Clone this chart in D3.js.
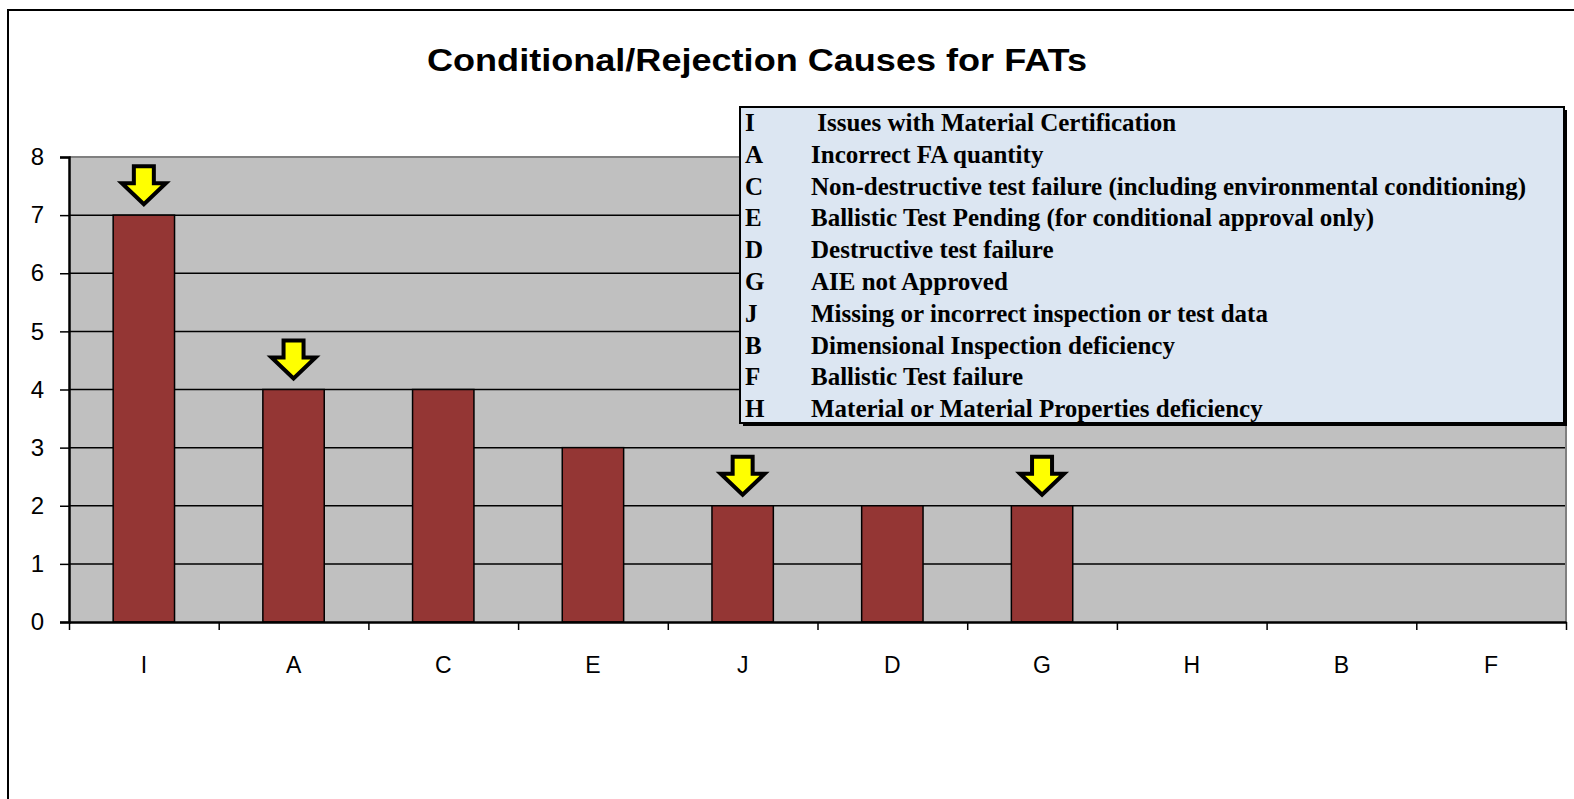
<!DOCTYPE html>
<html>
<head>
<meta charset="utf-8">
<script src="https://cdn.jsdelivr.net/npm/d3@7"></script>
<style>
  body { margin: 0; background: #fff; }
  svg { display: block; }
</style>
</head>
<body>
<svg id="chart"></svg>
<script>
// chart data
var categories = ['I', 'A', 'C', 'E', 'J', 'D', 'G', 'H', 'B', 'F'];
var counts = [7, 4, 4, 3, 2, 2, 2, 0, 0, 0];
var flagged = ['I', 'A', 'J', 'G'];
var yTicks = [0, 1, 2, 3, 4, 5, 6, 7, 8];
var legendCodes = ['I', 'A', 'C', 'E', 'D', 'G', 'J', 'B', 'F', 'H'];
var legendText = [
  ' Issues with Material Certification',
  'Incorrect FA quantity',
  'Non-destructive test failure (including environmental conditioning)',
  'Ballistic Test Pending (for conditional approval only)',
  'Destructive test failure',
  'AIE not Approved',
  'Missing or incorrect inspection or test data',
  'Dimensional Inspection deficiency',
  'Ballistic Test failure',
  'Material or Material Properties deficiency'
];

var W = 1574, H = 799;
var plot = {left: 69, right: 1566, top: 157, bottom: 622};

var svg = d3.select('#chart').attr('width', W).attr('height', H);

// chart area border
svg.append('rect')
    .attr('x', 8).attr('y', 10)
    .attr('width', W + 20).attr('height', H + 20)
    .attr('fill', '#fff').attr('stroke', '#000').attr('stroke-width', 2);

var x = d3.scaleBand()
    .domain(categories)
    .range([plot.left, plot.right])
    .paddingInner(0.59).paddingOuter(0.295);

var y = d3.scaleLinear()
    .domain([0, 8])
    .range([plot.bottom, plot.top]);

// plot background
svg.append('rect')
    .attr('x', plot.left).attr('y', plot.top)
    .attr('width', plot.right - plot.left).attr('height', plot.bottom - plot.top)
    .attr('fill', '#c0c0c0');

// gridlines
svg.append('g').selectAll('line')
    .data(yTicks.filter(function(d) { return d > 0 && d < 8; }))
  .enter().append('line')
    .attr('x1', plot.left).attr('x2', plot.right)
    .attr('y1', function(d) { return y(d); })
    .attr('y2', function(d) { return y(d); })
    .attr('stroke', '#000').attr('stroke-width', 1.5);

// gray top / right plot edges
svg.append('path')
    .attr('d', 'M' + plot.left + ',' + plot.top + 'H' + plot.right + 'V' + plot.bottom)
    .attr('fill', 'none').attr('stroke', '#808080').attr('stroke-width', 2);

// bars
var data = categories.map(function(c, i) { return {cat: c, v: counts[i]}; });
svg.append('g').selectAll('rect')
    .data(data.filter(function(d) { return d.v > 0; }))
  .enter().append('rect')
    .attr('x', function(d) { return x(d.cat); })
    .attr('y', function(d) { return y(d.v); })
    .attr('width', x.bandwidth())
    .attr('height', function(d) { return y(0) - y(d.v); })
    .attr('fill', '#943634')
    .attr('stroke', '#000').attr('stroke-width', 1.5);

// y axis
var yAxis = svg.append('g')
    .attr('transform', 'translate(' + plot.left + ',0)')
    .call(d3.axisLeft(y).tickValues(yTicks).tickSize(9).tickPadding(16).tickFormat(d3.format('d')));
yAxis.select('.domain').attr('stroke-width', 2.5);
yAxis.selectAll('.tick line').attr('stroke-width', 1.5);
yAxis.selectAll('text')
    .attr('font-family', 'Liberation Sans, Arial, sans-serif')
    .attr('font-size', 24).attr('fill', '#000');

// x axis: ticks between categories
var xEdges = d3.scaleLinear().domain([0, categories.length]).range([plot.left, plot.right]);
var xAxis = svg.append('g')
    .attr('transform', 'translate(0,' + plot.bottom + ')')
    .call(d3.axisBottom(xEdges).tickValues(d3.range(categories.length + 1)).tickSize(8).tickSizeOuter(0).tickFormat(''));
xAxis.select('.domain').attr('stroke-width', 2.5);
xAxis.selectAll('.tick line').attr('stroke-width', 1.5);

svg.append('g').selectAll('text')
    .data(categories)
  .enter().append('text')
    .attr('x', function(d) { return x(d) + x.bandwidth() / 2; })
    .attr('y', 673)
    .attr('text-anchor', 'middle')
    .attr('font-family', 'Liberation Sans, Arial, sans-serif')
    .attr('font-size', 23)
    .text(function(d) { return d; });

// flag arrows above selected bars
var arrowPath = 'M-10,-38H10V-21H22L0,0L-22,-21H-10Z';
svg.append('g').selectAll('path')
    .data(data.filter(function(d) { return flagged.indexOf(d.cat) >= 0; }))
  .enter().append('path')
    .attr('d', arrowPath)
    .attr('transform', function(d) {
      return 'translate(' + (x(d.cat) + x.bandwidth() / 2) + ',' + (y(d.v) - 11) + ')';
    })
    .attr('fill', '#ffff00')
    .attr('stroke', '#000').attr('stroke-width', 4)
    .attr('stroke-linejoin', 'miter');

// title
svg.append('text')
    .attr('x', 757).attr('y', 71)
    .attr('text-anchor', 'middle')
    .attr('font-family', 'Liberation Sans, Arial, sans-serif')
    .attr('font-weight', 'bold')
    .attr('font-size', 32)
    .attr('textLength', 660).attr('lengthAdjust', 'spacingAndGlyphs')
    .text('Conditional/Rejection Causes for FATs');

// legend box
var lg = {x: 740, y: 107, w: 824, h: 316};
svg.append('rect')
    .attr('x', lg.x + 3).attr('y', lg.y + 3)
    .attr('width', lg.w).attr('height', lg.h)
    .attr('fill', '#000');
svg.append('rect')
    .attr('x', lg.x).attr('y', lg.y)
    .attr('width', lg.w).attr('height', lg.h)
    .attr('fill', '#dce6f2')
    .attr('stroke', '#000').attr('stroke-width', 2);

var rows = svg.append('g').selectAll('g')
    .data(legendCodes)
  .enter().append('g')
    .attr('transform', function(d, i) { return 'translate(0,' + (131 + i * 31.8) + ')'; })
    .attr('font-family', 'Liberation Serif, Times New Roman, serif')
    .attr('font-weight', 'bold')
    .attr('font-size', 25);
rows.append('text')
    .attr('x', 745)
    .text(function(d) { return d; });
rows.append('text')
    .attr('x', 811)
    .attr('xml:space', 'preserve')
    .style('white-space', 'pre')
    .text(function(d, i) { return legendText[i]; });
</script>
</body>
</html>
